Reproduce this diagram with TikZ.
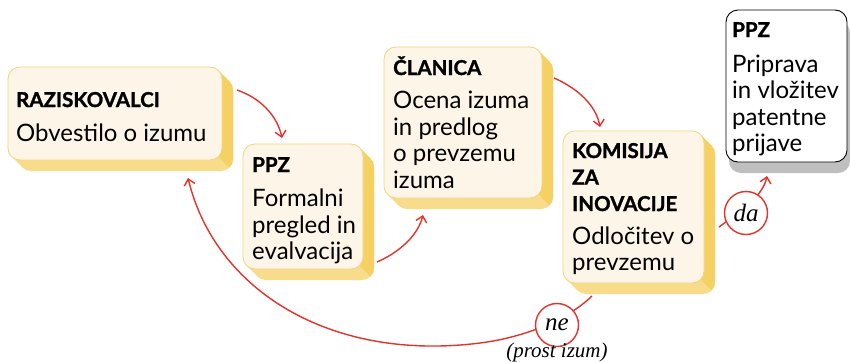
\documentclass[tikz,border=0pt]{standalone}
\usepackage{fontspec}
\setmainfont{Lato}[BoldFeatures={FakeBold=1.3}]
\newfontfamily\hand{Liberation Serif}
\usetikzlibrary{arrows.meta}
\definecolor{ydark}{HTML}{F5D164}
\definecolor{ylight}{HTML}{F8DC8B}
\definecolor{yfill}{HTML}{FDF6E8}
\definecolor{yline}{HTML}{F2D47A}
\definecolor{rd}{HTML}{E2342C}
\definecolor{gsh}{HTML}{BFBFBF}
\tikzset{
 yfront/.style={draw=yline, line width=0.8pt, fill=yfill, rounded corners=12pt, inner sep=0pt, outer sep=0pt, rectangle},
 gfront/.style={draw=black, line width=0.9pt, fill=white, rounded corners=12pt, inner sep=0pt, outer sep=0pt, rectangle},
 txt/.style={anchor=base west, inner sep=0pt, font=\fontsize{24}{26.5}\selectfont},
 conn/.style={draw=rd, line width=1.4pt, -{Straight Barb[length=6pt,width=11pt]}},
 answer/.style={circle, draw=rd, line width=1.4pt, fill=white, minimum size=43pt, inner sep=0pt, font=\hand\itshape\fontsize{25}{25}\selectfont},
 note/.style={inner sep=0pt, anchor=base, font=\hand\itshape\fontsize{21}{21}\selectfont},
}
\newcommand\hd[1]{\hbox{\bfseries\fontsize{20.5}{26.5}\selectfont #1}}
\newcommand\bline[1]{\hbox{#1}}
% extrusion hull: colour, x1, y1, x2, y2, dx, dy
\newcommand\hull[7]{%
 \fill[#1,rounded corners=12pt] (#2,#3) rectangle (#4,#5);
 \fill[#1,rounded corners=12pt] (#2+#6,#3+#7) rectangle (#4+#6,#5+#7);
 \fill[#1] (#4-3.515,#3+3.515) -- (#4-3.515+#6,#3+3.515+#7) -- (#2+3.515+#6,#5-3.515+#7) -- (#2+3.515,#5-3.515) -- cycle;
}
% yellow 3D box: name, x1, y1, x2, y2 (front face)
\newcommand\ybox[5]{%
 \hull{ylight}{#2}{#3}{#4}{#5}{11}{11}
 \begin{scope}
  \clip (#4-14,#3-20) -- (#4+40,#3-20) -- (#4+40,#5+40) -- (#4-14,#5-14) -- cycle;
  \hull{ydark}{#2}{#3}{#4}{#5}{11}{11}
 \end{scope}
 \node[yfront, minimum width=#4-#2, minimum height=#5-#3] (#1) at ({(#2+#4)/2},{(#3+#5)/2}) {};
}
\begin{document}
\begin{tikzpicture}[x=1pt,y=-1pt]
\useasboundingbox (0,0) rectangle (850,362);
\fill[white] (0,0) rectangle (850,362);

\ybox{b1}{8}{67}{222}{160}
\ybox{b2}{243}{144}{363}{269}
\ybox{b3}{384}{47}{542}{198}
\ybox{b4}{563}{131}{704}{283}
% gray box
\hull{gsh}{726}{10}{847}{162}{3}{11}
\node[gfront, minimum width=121, minimum height=152] (b5) at (786.5,86) {};

\node[txt] (t1) at (16,107) {\vtop{\hd{RAZISKOVALCI}\vskip7.5pt\bline{Obvestilo o izumu}}};
\node[txt] (t2) at (252,172) {\vtop{\hd{PPZ}\vskip8pt\bline{Formalni}\bline{pregled in}\bline{evalvacija}}};
\node[txt] (t3) at (393,75) {\vtop{\hd{ČLANICA}\vskip7pt\bline{Ocena izuma}\bline{in predlog}\bline{o prevzemu}\bline{izuma}}};
\node[txt] (t4) at (572,158) {\vtop{\hd{KOMISIJA}\hd{ZA}\hd{INOVACIJE}\vskip6.5pt\bline{Odločitev o}\bline{prevzemu}}};
\node[txt] (t5) at (732,37) {\vtop{\hd{PPZ}\vskip8.5pt\bline{Priprava}\bline{in vložitev}\bline{patentne}\bline{prijave}}};

% connector end points
\coordinate (a1s) at ([shift={(15,23)}]b1.north east);
\coordinate (a1e) at ([shift={(39,-6)}]b2.north west);
\coordinate (a2s) at ([shift={(14,-7)}]b2.south east);
\coordinate (a2e) at ([shift={(39,17)}]b3.south west);
\coordinate (a3s) at ([shift={(12,31)}]b3.north east);
\coordinate (a3e) at ([shift={(37,-4)}]b4.north west);
\coordinate (das) at ([shift={(15,96)}]b4.north east);
\coordinate (dae) at ([shift={(41,14)}]b5.south west);
\coordinate (nes) at ([shift={(29,13)}]b4.south west);
\coordinate (nee) at ([shift={(180,18)}]b1.south west);

\draw[conn] (a1s) .. controls (260,98) and (277,115) .. (a1e);
\draw[conn] (a2s) .. controls (400,252) and (418,235) .. (a2e);
\draw[conn] (a3s) .. controls (577,88) and (596,105) .. (a3e);
\draw[conn] (das) .. controls (745,208) and (763,195) .. (dae);
\draw[conn] (nes) .. controls (565,322) and (520,338) .. (480,343) .. controls (330,362) and (215,290) .. (nee);

\node[answer] (da) at (746,213) {da};
\node[answer] (ne) at (557,325) {ne};
\node[note] (prost) at (557,357) {(prost izum)};
\end{tikzpicture}
\end{document}
